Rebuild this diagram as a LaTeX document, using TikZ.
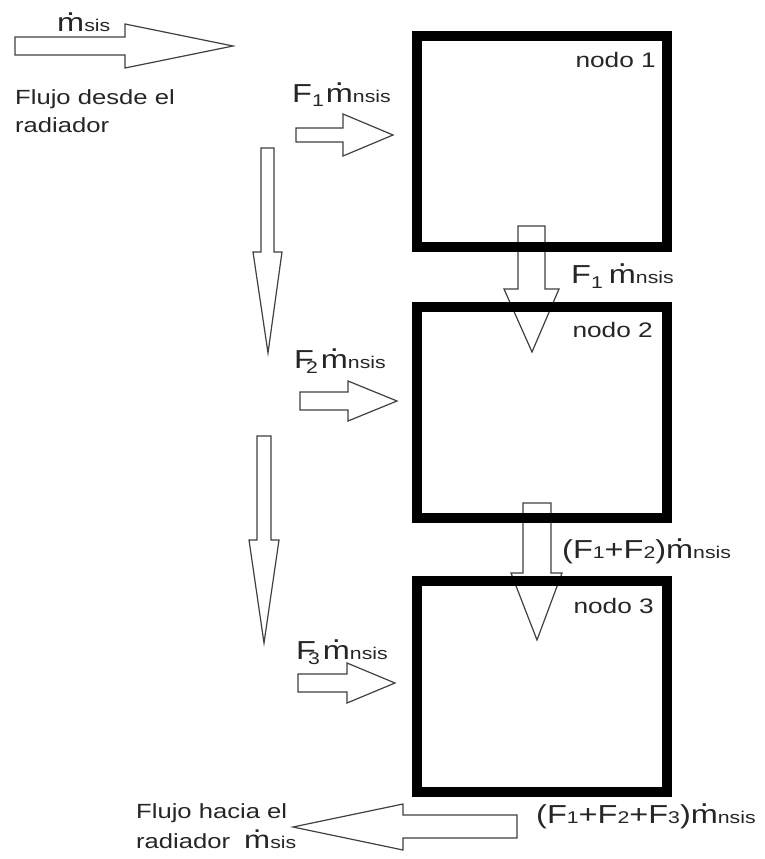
\documentclass[tikz,border=0pt]{standalone}
\usepackage{fontspec}
\setmainfont{Liberation Sans}[FakeStretch=1.25]
\newsavebox\mdotbox
\newcommand{\mdt}{\sbox\mdotbox{m}\rlap{\hbox to \wd\mdotbox{\hss\raisebox{0.64em}{.}\hss}}\usebox\mdotbox}
\newcommand{\smtxt}[1]{{\fontsize{17}{20}\selectfont #1}}
\newcommand{\lowsub}[1]{\raisebox{-5pt}{\fontsize{17}{20}\selectfont #1}}
\tikzset{
  blk/.style={draw=black!75, line width=1.2pt, line join=miter},
  nodebox/.style={draw=black, line width=10pt, minimum width=250pt, minimum height=211pt, inner sep=0pt},
  txt/.style={inner sep=0pt, font=\fontsize{20.5}{24}\selectfont, text=black!85},
  lbl/.style={inner sep=0pt, font=\fontsize{26}{30}\selectfont, text=black!85},
  nodolbl/.style={inner sep=0pt, font=\fontsize{21}{24}\selectfont, text=black!85}
}
\begin{document}
\begin{tikzpicture}[x=1pt,y=-1pt]
\useasboundingbox[fill=white] (0,0) rectangle (764,859);

% block arrows
\draw[blk] (15,37) -- (125,37) -- (125,24) -- (233,46) -- (125,68) -- (125,55) -- (15,55) -- cycle;
\draw[blk] (296,128) -- (343,128) -- (343,114) -- (393,135) -- (343,156) -- (343,142) -- (296,142) -- cycle;
\draw[blk] (300,392) -- (348,392) -- (348,381) -- (397,401) -- (348,421) -- (348,410) -- (300,410) -- cycle;
\draw[blk] (298,674) -- (347,674) -- (347,663) -- (395,683) -- (347,703) -- (347,692) -- (298,692) -- cycle;
\draw[blk] (261,148) -- (274,148) -- (274,252) -- (282,252) -- (268,353) -- (253,252) -- (261,252) -- cycle;
\draw[blk] (257,436) -- (271,436) -- (271,540) -- (279,540) -- (264,643) -- (249,540) -- (257,540) -- cycle;
\draw[blk] (518,226) -- (545,226) -- (545,289) -- (559,289) -- (532,352) -- (504,289) -- (518,289) -- cycle;
\draw[blk] (523,503) -- (551,503) -- (551,573) -- (562,573) -- (537,640) -- (511,573) -- (523,573) -- cycle;
\draw[blk] (517,815) -- (403,815) -- (403,804) -- (293,827) -- (403,850) -- (403,838) -- (517,838) -- cycle;

% boxes
\node[nodebox] (n1) at (542,141.5) {};
\node[nodebox] (n2) at (542,412.5) {};
\node[nodebox] (n3) at (542,686.5) {};
\node[nodolbl, anchor=base east] (l1) at (656,67) {nodo 1};
\node[nodolbl, anchor=base east] (l2) at (653,337) {nodo 2};
\node[nodolbl, anchor=base east] (l3) at (654,613) {nodo 3};

% texts
\node[lbl, anchor=base west] (msis) at (57,32) {\mdt\smtxt{sis}};
\node[txt, anchor=base west] (fd1) at (15,104) {Flujo desde el};
\node[txt, anchor=base west] (fd2) at (15,132) {radiador};
\node[lbl, anchor=base west] (f1a) at (292,102) {F\lowsub{1}\hspace{2pt}\mdt\smtxt{nsis}};
\node[lbl, anchor=base west] (f2a) at (294,368) {F\kern-8pt\lowsub{2}\hspace{3pt}\mdt\smtxt{nsis}};
\node[lbl, anchor=base west] (f3a) at (296,659) {F\kern-8pt\lowsub{3}\hspace{3pt}\mdt\smtxt{nsis}};
\node[lbl, anchor=base west] (f1b) at (571,283) {F\lowsub{1}\hspace{6pt}\mdt\smtxt{nsis}};
\node[lbl, anchor=base west] (f12) at (562,558) {(F\smtxt{1}+F\smtxt{2})\mdt\smtxt{nsis}};
\node[lbl, anchor=base west] (f123) at (536,823) {(F\smtxt{1}+F\smtxt{2}+F\smtxt{3})\mdt\smtxt{nsis}};
\node[txt, anchor=base west] (fh1) at (136,818) {Flujo hacia el};
\node[txt, anchor=base west] (fh2) at (136,848) {radiador\hspace{14pt}{\fontsize{25}{28}\selectfont\mdt}\smtxt{sis}};
\end{tikzpicture}
\end{document}
